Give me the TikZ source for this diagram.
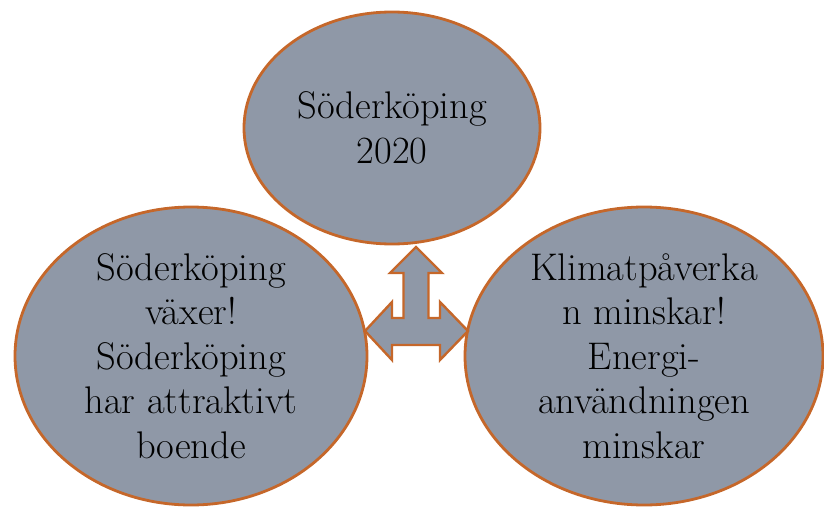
\documentclass[tikz,border=0pt]{standalone}
\usetikzlibrary{calc}
\definecolor{bubblefill}{RGB}{143,152,167}
\definecolor{bubbleline}{RGB}{197,103,42}
\tikzset{
  bubble/.style={draw=bubbleline, fill=bubblefill, line width=2.8pt},
  bubbletext/.style={align=center, inner sep=0pt, font=\fontsize{38.5}{44.5}\selectfont},
}

\begin{document}
\begin{tikzpicture}[x=1pt,y=1pt]
	%%%%% START %%%%%
	\useasboundingbox (0,0) rectangle (824,507);
	
	\draw[bubble] (392,379) ellipse [x radius=148, y radius=116];
	\node[bubbletext] (goal) at (392,379) {Söderköping\\2020};
	
	\draw[bubble] (191,151) ellipse [x radius=176, y radius=149];
	\node[bubbletext] (grow) at (191,151) {Söderköping\\växer!\\Söderköping\\har attraktivt\\boende};
	
	\draw[bubble] (644,151) ellipse [x radius=179, y radius=149];
	\node[bubbletext] (climate) at (644,151) {Klimatpåverka\\n minskar!\\Energi-\\användningen\\minskar};
	
	% three way arrow
	\draw[bubble, line width=2.4pt] (416,260) -- (442,234) -- (428.5,234) -- (428.5,189)
		-- (440,189) -- (440,205) -- (468,176) -- (440,147) -- (440,162)
		-- (392,162) -- (392,147) -- (365,176) -- (392,205) -- (392,189)
		-- (403.5,189) -- (403.5,234) -- (390,234) -- cycle;
	
	%%%%% END %%%%%
\end{tikzpicture}
\end{document}
